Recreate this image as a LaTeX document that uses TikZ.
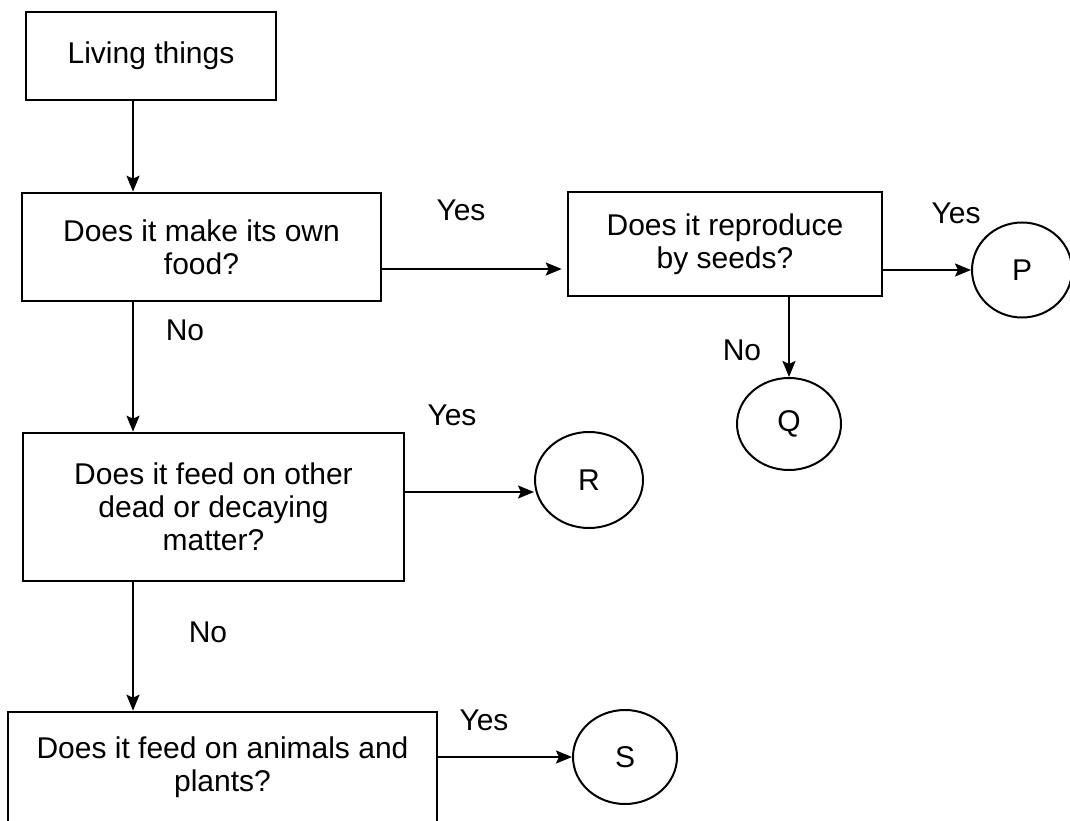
\documentclass[tikz,border=0pt]{standalone}
\usepackage{fontspec}
\setmainfont{Liberation Sans}
\usetikzlibrary{shapes.geometric,arrows.meta,calc}
\begin{document}
\begin{tikzpicture}[x=1pt,y=-1pt,
  every node/.style={font=\fontsize{30}{33}\selectfont},
  qbox/.style={draw, line width=2.6pt, rectangle, inner sep=0pt, align=center},
  leaf/.style={draw, ellipse, line width=2pt, inner sep=0pt},
  arr/.style={line width=2pt, -{Stealth[length=16pt,width=13pt,inset=3pt]}},
  lbl/.style={inner sep=0pt}]
\useasboundingbox (0,0) rectangle (1070,821);
% boxes
\node[qbox, minimum width=250pt, minimum height=88pt] (b1) at (151,56) {Living things};
\node[qbox, minimum width=359pt, minimum height=108pt] (b2) at (201.5,247) {Does it make its own\\food?};
\node[qbox, minimum width=314pt, minimum height=104pt] (b3) at (725,244) {Does it reproduce\\by seeds?};
\node[qbox, minimum width=381pt, minimum height=148pt] (b4) at (213.5,507) {Does it feed on other\\dead or decaying\\matter?};
\node[qbox, minimum width=429pt, minimum height=110pt] (b5) at (222.5,767) {Does it feed on animals and\\plants?};
% leaves
\node[leaf, minimum width=100pt, minimum height=95pt] (P) at (1022,270) {P};
\node[leaf, minimum width=104pt, minimum height=92pt] (Q) at (789,424) {Q};
\node[leaf, minimum width=108pt, minimum height=96pt] (R) at (589,480) {R};
\node[leaf, minimum width=104pt, minimum height=94pt] (S) at (625,757) {S};
% helper coordinates
\coordinate (colx) at (133,0);
\coordinate (ya) at (0,269);
\coordinate (yR) at (0,492);
% connectors
\draw[arr] (b1.south -| colx) -- (b2.north -| colx);
\draw[arr] (b2.south -| colx) -- (b4.north -| colx);
\draw[arr] (b4.south -| colx) -- (b5.north -| colx);
\draw[arr, shorten >=5pt] (b2.east |- ya) -- (b3.west |- ya);
\draw[arr] (b3.east |- P.west) -- (P.west);
\draw[arr] (b3.south -| Q.north) -- (Q.north);
\draw[arr] (b4.east |- yR) -- (R.west |- yR);
\draw[arr] (b5.east |- S.west) -- (S.west);
% labels
\node[lbl] (l1) at (461,210) {Yes};
\node[lbl] (l2) at (956,213) {Yes};
\node[lbl] (l3) at (742,350) {No};
\node[lbl] (l4) at (185,330) {No};
\node[lbl] (l5) at (452,415) {Yes};
\node[lbl] (l6) at (208,632) {No};
\node[lbl] (l7) at (484,720) {Yes};
\end{tikzpicture}
\end{document}
